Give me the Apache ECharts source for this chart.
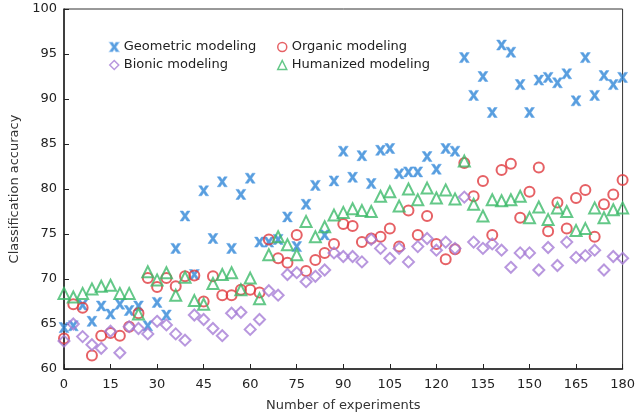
<!DOCTYPE html>
<html>
<head>
<meta charset="utf-8">
<script src="https://cdn.jsdelivr.net/npm/echarts@6/dist/echarts.min.js"></script>
<style>
  html, body { margin: 0; padding: 0; background: #fff; }
  #chart { width: 638px; height: 417px; }
</style>
</head>
<body>
<div id="chart"></div>
<script>
// x positions of the experiments
const experiments = [0, 3, 6, 9, 12, 15, 18, 21, 24, 27, 30, 33, 36, 39, 42, 45, 48, 51, 54, 57, 60,
  63, 66, 69, 72, 75, 78, 81, 84, 87, 90, 93, 96, 99, 102, 105, 108, 111, 114, 117, 120,
  123, 126, 129, 132, 135, 138, 141, 144, 147, 150, 153, 156, 159, 162, 165, 168, 171, 174, 177, 180];

const geometric = [64.6, 64.8, 67.1, 65.3, 67.0, 66.1, 67.2, 66.5, 67.0, 64.8, 67.4, 66.0, 73.4, 77.0, 70.5,
  79.8, 74.5, 80.8, 73.4, 79.4, 81.2, 74.1, 74.1, 74.4, 76.9, 73.6, 78.3, 80.4, 74.9, 80.9,
  84.2, 81.3, 83.7, 80.6, 84.3, 84.5, 81.7, 81.9, 81.9, 83.6, 82.2, 84.5, 84.2, 94.6, 90.4,
  92.5, 88.5, 96.0, 95.2, 91.6, 88.5, 92.1, 92.4, 91.8, 92.8, 89.8, 94.6, 90.4, 92.6, 91.6, 92.4];

const organic = [63.4, 67.2, 66.8, 61.5, 63.7, 64.0, 63.7, 64.7, 66.2, 70.1, 69.1, 70.1, 69.2, 70.3, 70.4,
  67.5, 70.3, 68.2, 68.2, 68.8, 68.8, 68.5, 74.4, 72.3, 71.8, 74.9, 70.9, 72.1, 72.9, 73.9,
  76.1, 75.9, 74.1, 74.5, 74.7, 75.6, 73.6, 77.6, 74.9, 77.0, 73.9, 72.2, 73.3, 82.9, 79.2,
  80.9, 74.9, 82.1, 82.8, 76.8, 79.7, 82.4, 75.3, 78.5, 75.6, 79.0, 79.9, 74.7, 78.3, 79.4, 81.0];

const bionic = [63.1, 65.0, 63.6, 62.7, 62.3, 64.2, 61.8, 64.7, 64.5, 63.9, 65.3, 64.9, 63.9, 63.2, 66.0,
  65.5, 64.5, 63.7, 66.2, 66.3, 64.4, 65.5, 68.7, 68.2, 70.5, 70.7, 69.7, 70.3, 71.0, 72.9,
  72.5, 72.5, 71.9, 74.4, 73.4, 72.3, 73.4, 71.9, 73.6, 74.5, 73.2, 74.1, 73.4, 79.1, 74.1,
  73.4, 73.9, 73.2, 71.3, 72.9, 72.9, 71.0, 73.5, 71.5, 74.1, 72.4, 72.6, 73.2, 71.0, 72.5, 72.3];

const humanized = [68.4, 68.0, 68.4, 68.9, 69.2, 69.3, 68.4, 68.4, 66.1, 70.8, 69.9, 70.7, 68.2, 70.2, 67.6,
  67.2, 69.5, 70.5, 70.7, 68.8, 70.1, 67.8, 72.7, 74.7, 73.8, 72.7, 76.4, 74.7, 75.8, 77.1,
  77.4, 77.8, 77.6, 77.5, 79.2, 79.7, 78.1, 80.0, 78.8, 80.1, 79.0, 79.9, 78.9, 83.1, 78.3,
  77.0, 78.8, 78.7, 78.8, 79.2, 76.8, 78.0, 76.6, 77.9, 77.5, 75.4, 75.6, 77.9, 76.8, 77.7, 77.9];

const seriesNames = ['Geometric modeling', 'Organic modeling', 'Bionic modeling', 'Humanized modeling'];

function pairs(values) {
  return values.map((v, i) => [experiments[i], v]);
}

const font = 'DejaVu Sans, Verdana, sans-serif';
const crossPath = 'path://M0,0 L3,0 L5,3 L7,0 L10,0 L6.6,5 L10,10 L7,10 L5,7 L3,10 L0,10 L3.4,5 Z';

const legendCommon = {
  orient: 'vertical',
  top: 34,
  itemWidth: 9,
  itemHeight: 9,
  itemGap: 2,
  itemStyle: { borderWidth: 1.5 },
  textStyle: { fontSize: 13, color: '#222', fontFamily: font, lineHeight: 16, padding: 0 }
};

var chart = echarts.init(document.getElementById('chart'));
const option = {
  animation: false,
  textStyle: { fontFamily: font },
  grid: {
    left: 64,
    right: 12,
    top: 9,
    bottom: 48,
    show: true,
    borderColor: '#333',
    borderWidth: 1
  },
  legend: [
    Object.assign({ data: [seriesNames[0], seriesNames[2]], left: 104 }, legendCommon),
    Object.assign({ data: [seriesNames[1], seriesNames[3]], left: 272 }, legendCommon)
  ],
  xAxis: {
    type: 'value',
    min: 0,
    max: 180,
    interval: 15,
    name: 'Number of experiments',
    nameLocation: 'middle',
    nameGap: 30,
    nameTextStyle: { fontSize: 13, color: '#333' },
    axisLine: { lineStyle: { color: '#222', width: 1.5 } },
    axisTick: { inside: true, length: 5, lineStyle: { color: '#222' } },
    axisLabel: { fontSize: 13, color: '#222', margin: 9 },
    splitLine: { show: false }
  },
  yAxis: {
    type: 'value',
    min: 60,
    max: 100,
    interval: 5,
    name: 'Classification accuracy',
    nameLocation: 'middle',
    nameGap: 38,
    nameTextStyle: { fontSize: 13, color: '#333' },
    axisLine: { show: true, lineStyle: { color: '#222', width: 1.5 } },
    axisTick: { show: true, inside: true, length: 5, lineStyle: { color: '#222' } },
    axisLabel: { fontSize: 13, color: '#222', margin: 7 },
    splitLine: { show: false }
  },
  series: [
    {
      name: seriesNames[0],
      type: 'scatter',
      symbol: crossPath,
      symbolSize: 10,
      itemStyle: { color: '#2f86d6', borderColor: 'rgba(90,160,230,0.6)', borderWidth: 1 },
      data: pairs(geometric)
    },
    {
      name: seriesNames[1],
      type: 'scatter',
      symbol: 'circle',
      symbolSize: 10,
      itemStyle: { color: 'rgba(255,255,255,0)', borderColor: '#e0393e', borderWidth: 2 },
      data: pairs(organic)
    },
    {
      name: seriesNames[2],
      type: 'scatter',
      symbol: 'diamond',
      symbolSize: 11,
      itemStyle: { color: 'rgba(255,255,255,0)', borderColor: '#a67dd6', borderWidth: 2 },
      data: pairs(bionic)
    },
    {
      name: seriesNames[3],
      type: 'scatter',
      symbol: 'triangle',
      symbolSize: 11,
      itemStyle: { color: 'rgba(255,255,255,0)', borderColor: '#3dba6a', borderWidth: 2 },
      data: pairs(humanized)
    }
  ]
};

chart.setOption(option);
window.addEventListener('resize', function () {
  chart.resize();
});
</script>
</body>
</html>
